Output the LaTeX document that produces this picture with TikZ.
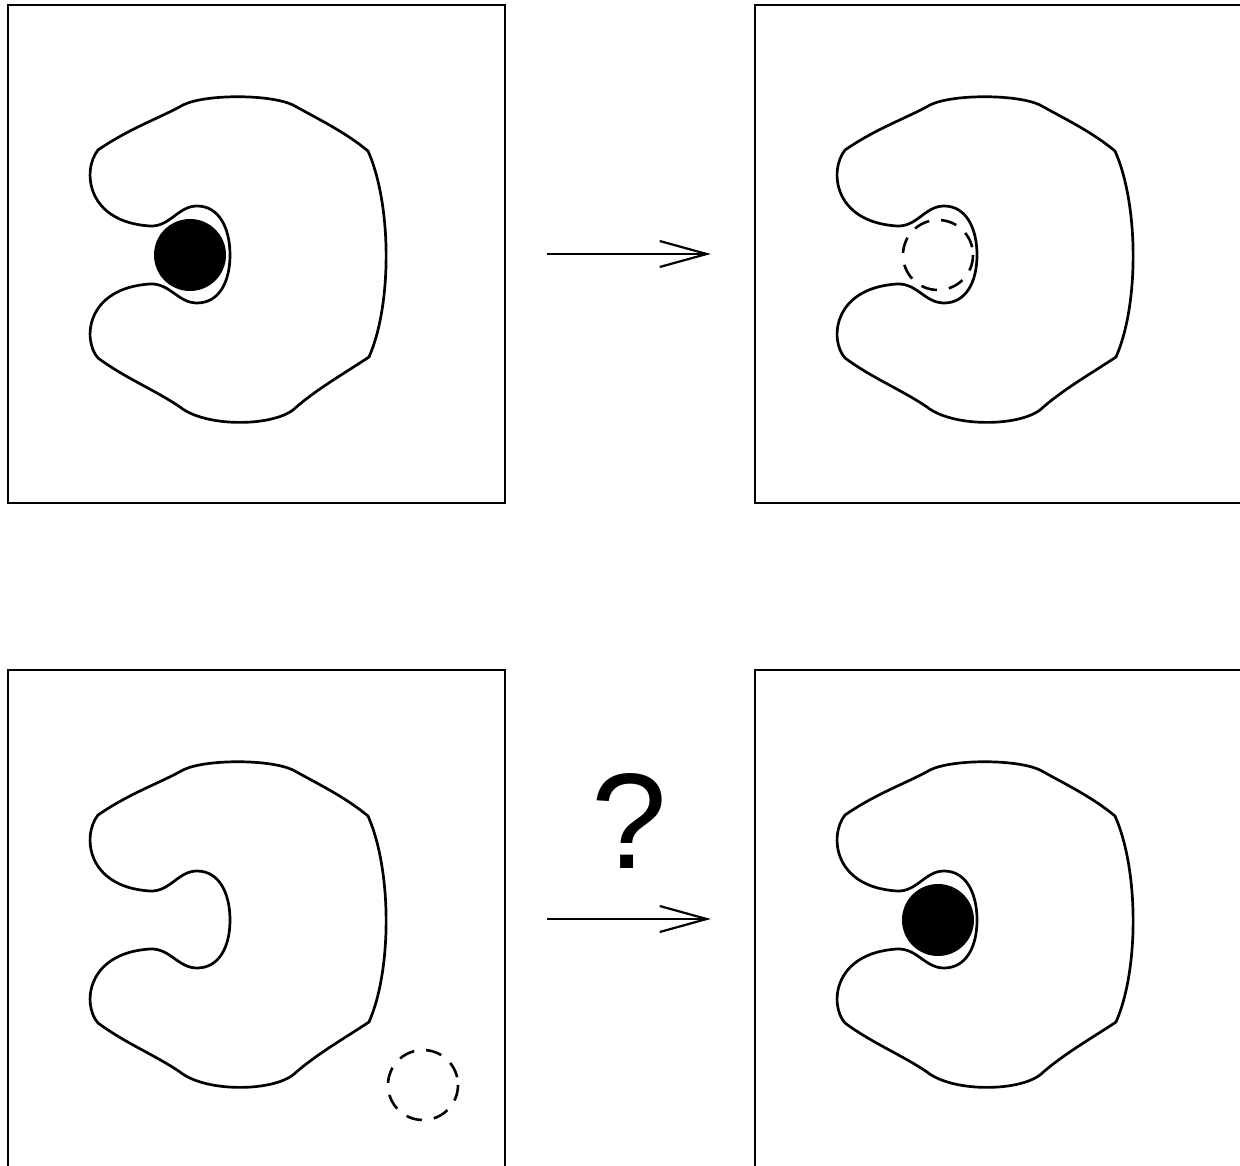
\documentclass[tikz,border=0pt]{standalone}
\usepackage{fontspec}
\setmainfont{Liberation Sans}
\usetikzlibrary{arrows.meta}
\tikzset{panel/.style={draw,line width=2.3pt,minimum width=497pt,minimum height=498pt,inner sep=0pt},outline/.style={line width=2.7pt,line join=round},ghost/.style={line width=2.6pt,dash pattern=on 16pt off 12pt},ligand/.style={fill=black},flow/.style={-{Straight Barb[length=47pt,width=26pt]},line width=2.2pt},
  pocket/.pic={\draw[outline](98,150)..controls(130,128)and(160,118)..(183,105)..controls(205,94)and(270,94)..(293,105)..controls(320,120)and(345,132)..(368,151)..controls(392,205)and(392,305)..(369,357)..controls(345,373)and(315,390)..(293,410)..controls(270,427)and(205,427)..(180,407)..controls(155,390)and(125,378)..(98,358)..controls(82,340)and(86,288)..(150,284)..controls(170,283)and(178,303)..(197,303)..controls(219,303)and(230,282)..(230,255)..controls(230,228)and(219,206)..(197,206)..controls(178,206)and(170,227)..(150,226)..controls(86,222)and(82,170)..(98,150)--cycle;}}
\begin{document}
\begin{tikzpicture}[x=1pt,y=-1pt]
  \useasboundingbox(0,0)rectangle(1240,1166);
  \clip(0,0)rectangle(1240,1166);
  % four panels
  \node[panel](bound)at(256.5,254){};
  \node[panel](released)at(1003.5,254){};
  \node[panel](apart)at(256.5,919){};
  \node[panel](rebound)at(1003.5,919){};
  \pic at(0,0){pocket};\pic at(747,0){pocket};
  \pic at(0,665){pocket};\pic at(747,665){pocket};
  % ligand in and out
  \fill[ligand](190,255)circle(36);
  \draw[ghost](938,255)circle(35);
  \draw[ghost](423,1085)circle(35);
  \fill[ligand](938,920)circle(36);
  % arrows between panels
  \draw[flow]([xshift=41pt]bound.east)--([xshift=-43pt]released.west);
  \draw[flow]([xshift=41pt]apart.east)--([xshift=-43pt]rebound.west)node[midway,above=46pt,font=\fontsize{136}{136}\selectfont](ask){?};
\end{tikzpicture}
\end{document}
